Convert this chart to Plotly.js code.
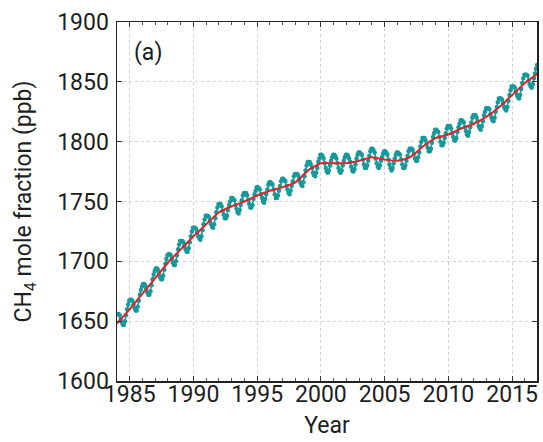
<!DOCTYPE html>
<html>
<head>
<meta charset="utf-8">
<script src="https://cdn.plot.ly/plotly-3.0.1.min.js"></script>
<style>html,body{margin:0;padding:0;background:#fff;}#chart{width:543px;height:442px;}</style>
</head>
<body>
<div id="chart"></div>
<script>
// Monthly global CH4 mole fraction (ppb), Jan 1984 .. Dec 2016, one row per year
const monthYears = [1984,1985,1986,1987,1988,1989,1990,1991,1992,1993,1994,1995,1996,1997,1998,1999,2000,2001,2002,2003,2004,2005,2006,2007,2008,2009,2010,2011,2012,2013,2014,2015,2016];
const ch4Monthly = [
  1656,1656,1655,1652,1649,1647,1647,1650,1655,1660,1664,1667,
  1668,1668,1667,1664,1661,1659,1659,1662,1667,1672,1676,1679,
  1681,1681,1680,1677,1674,1672,1672,1675,1680,1685,1689,1692,
  1694,1694,1693,1690,1687,1685,1685,1688,1693,1698,1702,1705,
  1706,1706,1705,1702,1699,1697,1697,1700,1705,1710,1714,1717,
  1717,1717,1716,1713,1710,1708,1708,1711,1716,1721,1725,1728,
  1728,1728,1727,1724,1721,1719,1718,1721,1726,1731,1735,1738,
  1738,1738,1737,1734,1731,1729,1728,1731,1736,1741,1745,1748,
  1748,1748,1746,1742,1739,1736,1736,1738,1743,1747,1750,1753,
  1753,1752,1751,1747,1744,1741,1740,1743,1747,1751,1755,1757,
  1757,1757,1755,1751,1748,1745,1745,1747,1752,1756,1759,1762,
  1762,1761,1760,1756,1753,1750,1749,1752,1756,1760,1764,1766,
  1766,1765,1764,1760,1756,1753,1753,1755,1759,1763,1767,1769,
  1769,1768,1767,1763,1760,1757,1756,1759,1763,1767,1771,1773,
  1773,1773,1772,1769,1766,1764,1763,1766,1771,1776,1780,1783,
  1783,1783,1781,1778,1774,1772,1771,1774,1778,1783,1786,1789,
  1789,1788,1786,1782,1778,1775,1774,1776,1780,1784,1787,1789,
  1789,1788,1786,1782,1778,1775,1774,1776,1780,1784,1787,1789,
  1789,1788,1786,1783,1779,1776,1775,1777,1781,1786,1789,1791,
  1791,1790,1789,1785,1781,1778,1778,1780,1784,1788,1792,1794,
  1794,1793,1791,1786,1782,1779,1778,1780,1784,1787,1790,1792,
  1792,1791,1789,1785,1781,1778,1776,1778,1782,1786,1789,1791,
  1791,1790,1789,1785,1781,1778,1778,1780,1784,1788,1792,1794,
  1794,1794,1793,1790,1786,1784,1784,1787,1791,1796,1800,1803,
  1803,1803,1801,1798,1795,1792,1792,1794,1799,1804,1807,1810,
  1810,1809,1808,1804,1800,1797,1797,1799,1803,1807,1811,1813,
  1813,1813,1811,1807,1804,1801,1801,1803,1808,1812,1815,1818,
  1818,1817,1816,1812,1809,1806,1805,1808,1812,1816,1820,1822,
  1822,1822,1820,1817,1813,1811,1810,1813,1817,1822,1825,1828,
  1828,1828,1827,1823,1820,1818,1817,1820,1825,1829,1833,1836,
  1836,1836,1835,1832,1829,1827,1826,1829,1834,1839,1843,1846,
  1846,1846,1845,1842,1839,1837,1836,1839,1844,1849,1853,1856,
  1856,1856,1855,1851,1848,1846,1845,1848,1853,1857,1861,1864
];
// Deseasonalised trend (ppb) at the start of each year
const trendYears = [1984,1985,1986,1987,1988,1989,1990,1991,1992,1993,1994,1995,1996,1997,1998,1999,2000,2001,2002,2003,2004,2005,2006,2007,2008,2009,2010,2011,2012,2013,2014,2015,2016,2017];
const trendCH4 = [1648,1660,1673,1686,1699,1710,1721,1731,1741,1746,1750,1755,1759,1762,1766,1776,1782,1782,1782,1784,1787,1785,1784,1787,1796,1803,1806,1811,1815,1821,1829,1839,1849,1857];
const xTickVals = [1985,1990,1995,2000,2005,2010,2015];
const yTickVals = [1600,1650,1700,1750,1800,1850,1900];

const monthX = [];
monthYears.forEach(y => { for (let m = 0; m < 12; m++) monthX.push(y + (m + 0.5) / 12); });

const teal = '#17999a';
const traces = [
  {x: monthX, y: ch4Monthly, type: 'scatter', mode: 'lines+markers',
   line: {color: teal, width: 1.5}, marker: {color: teal, size: 4.5}, hoverinfo: 'skip'},
  {x: trendYears, y: trendCH4, type: 'scatter', mode: 'lines',
   line: {color: '#d9262b', width: 2, shape: 'spline', smoothing: 0.5}, hoverinfo: 'skip'}
];

const axisFont = {family: 'Roboto, Arial, sans-serif', size: 23, color: '#1e1e1e'};
const layout = {
  width: 543, height: 442,
  margin: {l: 117, r: 6, t: 22, b: 61},
  paper_bgcolor: '#fff', plot_bgcolor: '#fff',
  showlegend: false,
  font: axisFont,
  xaxis: {
    range: [1984, 2016.95], tickvals: xTickVals, ticks: 'inside', ticklen: 5, tickwidth: 1, tickcolor: '#333',
    minor: {dtick: 1, tick0: 1985, ticks: 'inside', ticklen: 3, tickcolor: '#555', showgrid: false},
    showline: true, linecolor: '#222', linewidth: 1.5, mirror: 'allticks',
    showgrid: true, gridcolor: '#d0d0d0', griddash: 'dot', gridwidth: 1,
    zeroline: false, tickfont: axisFont, ticklabelstandoff: -8,
    title: {text: 'Year', font: axisFont, standoff: 10}
  },
  yaxis: {
    range: [1600, 1900], tickvals: yTickVals, ticks: 'inside', ticklen: 5, tickwidth: 1, tickcolor: '#333',
    showline: true, linecolor: '#222', linewidth: 1.5, mirror: 'allticks',
    showgrid: true, gridcolor: '#d0d0d0', griddash: 'dot', gridwidth: 1,
    zeroline: false, tickfont: axisFont, ticklabelstandoff: 2,
    title: {text: 'CH<sub>4</sub> mole fraction (ppb)', font: axisFont, standoff: 19}
  },
  annotations: [{
    text: '(a)', xref: 'paper', yref: 'paper', x: 0.036, y: 0.915, xanchor: 'left', yanchor: 'middle',
    showarrow: false, font: axisFont
  }]
};
Plotly.newPlot('chart', traces, layout, {displayModeBar: false, staticPlot: true});
</script>
</body>
</html>
